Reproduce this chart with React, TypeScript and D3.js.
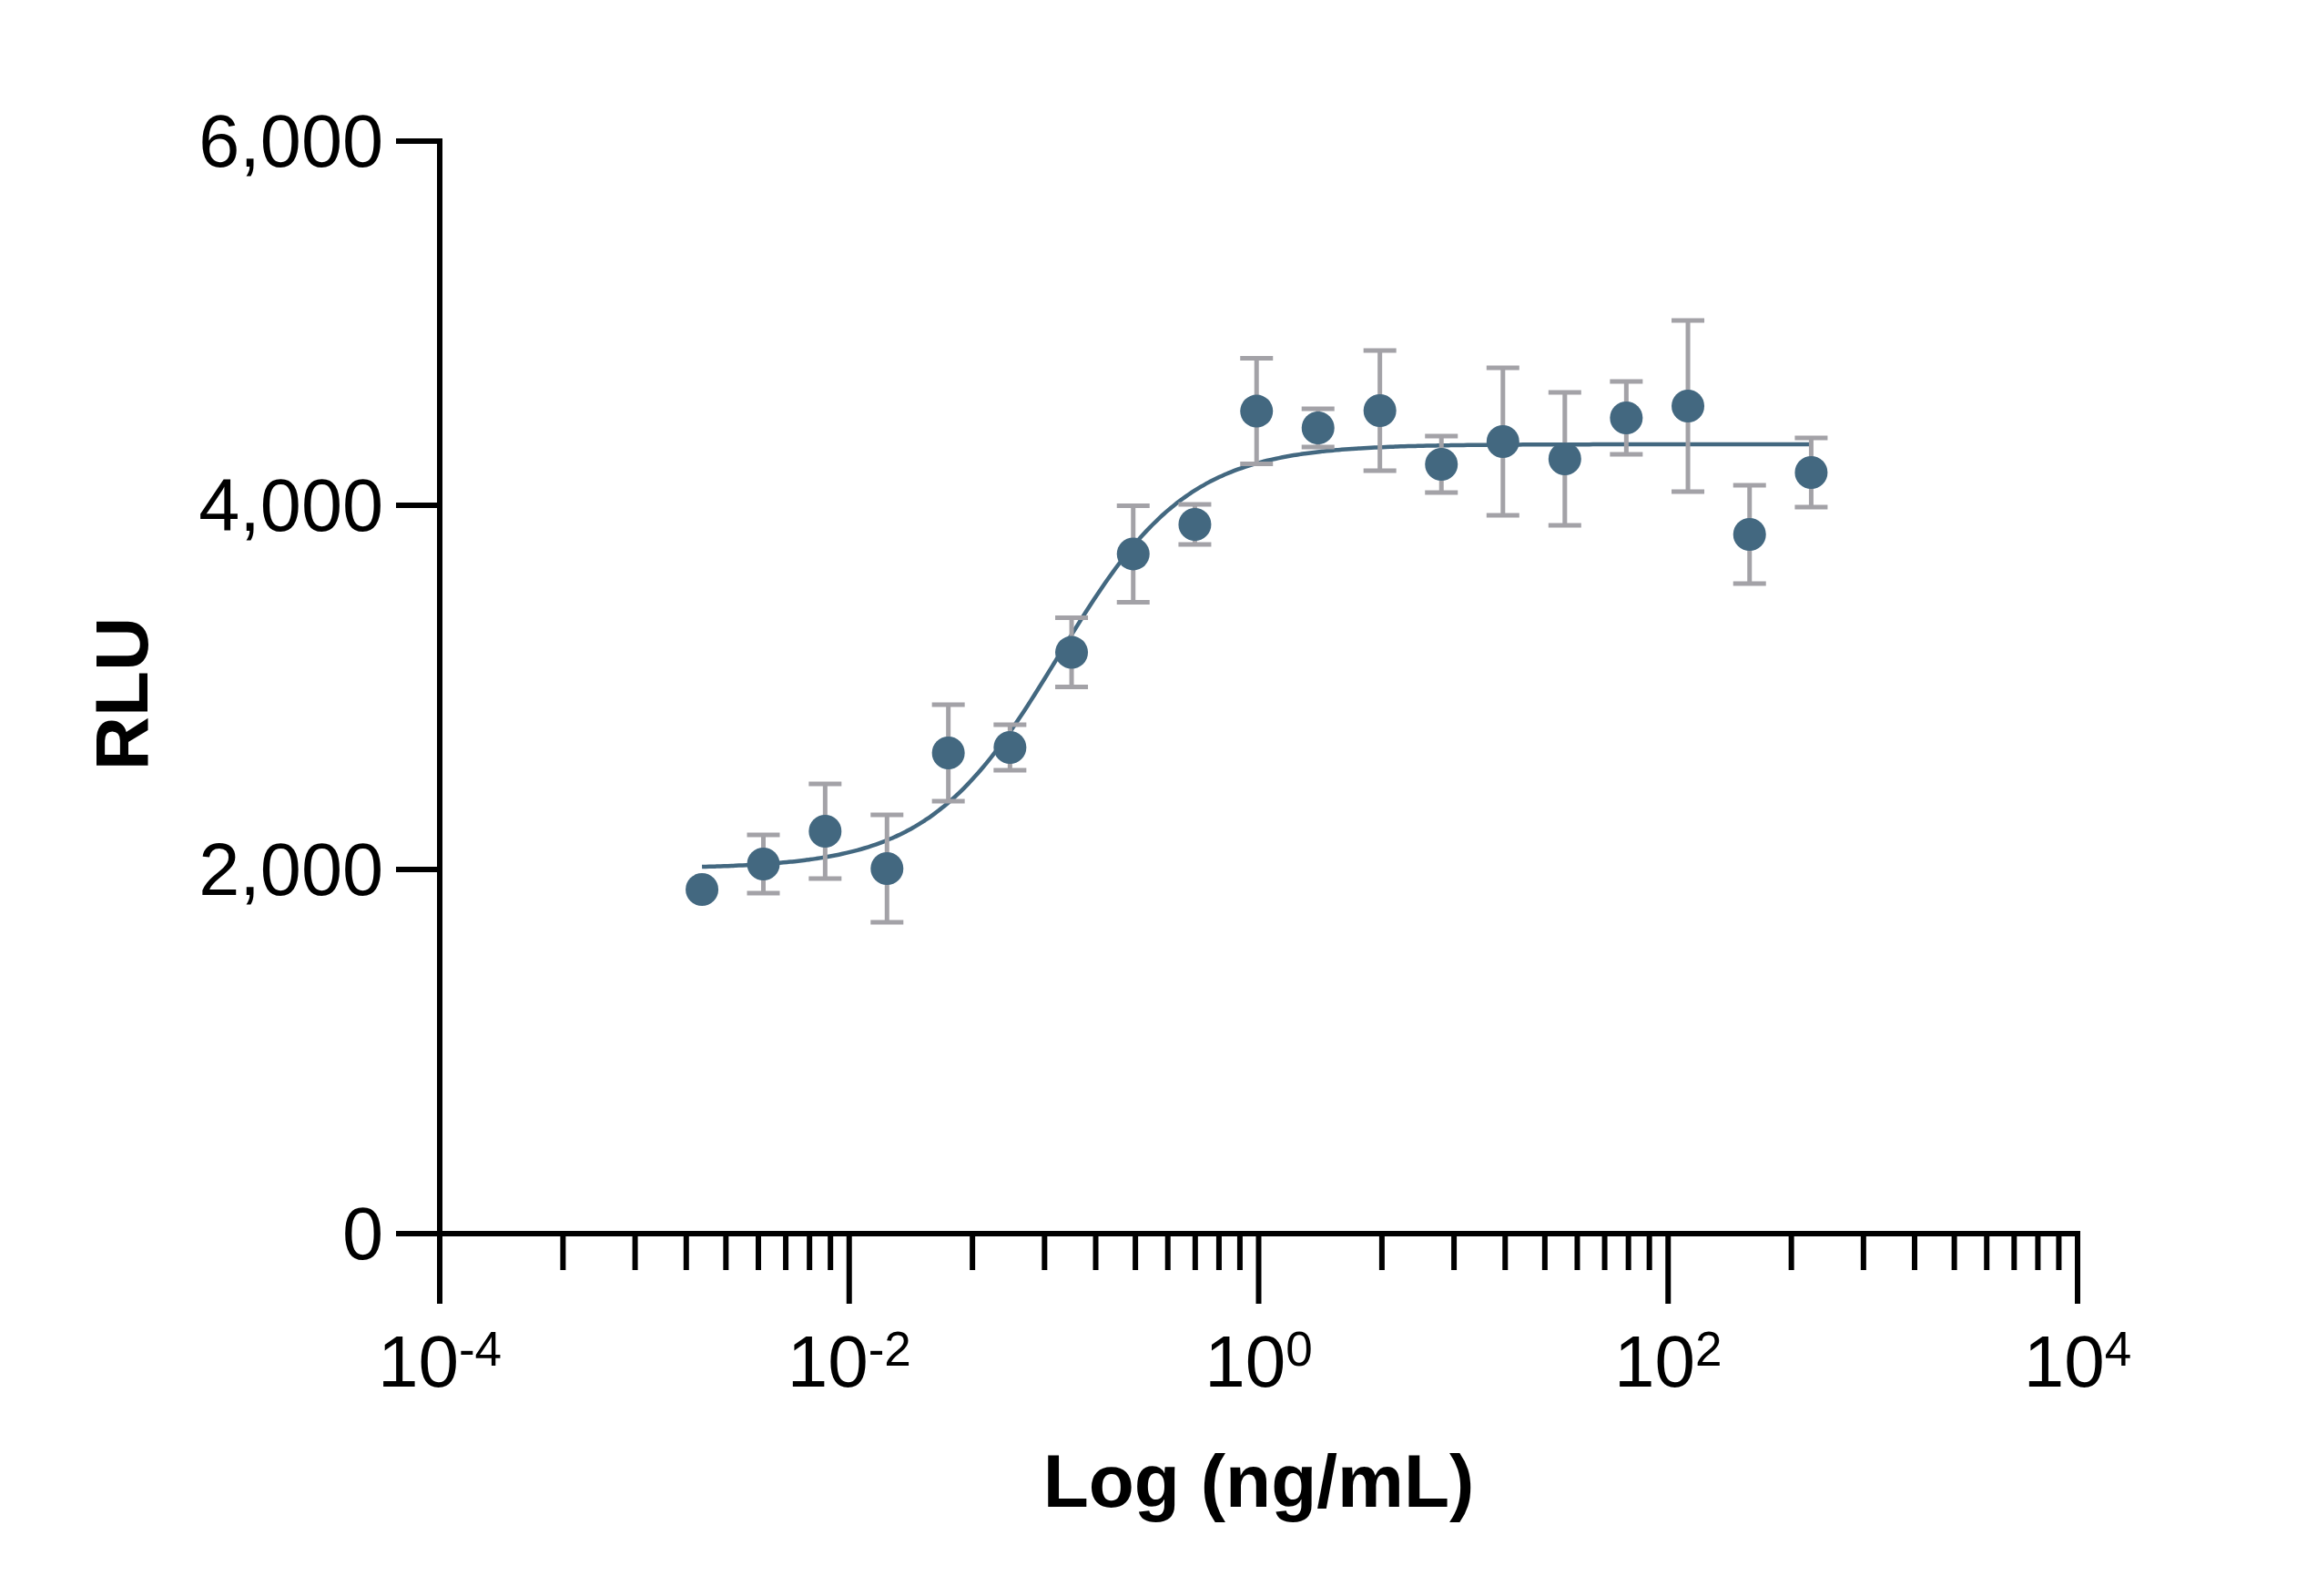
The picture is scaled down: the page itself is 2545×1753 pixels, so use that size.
import React from 'react';
import * as d3 from 'd3';

// concentration series (ng/mL), 2-fold dilution
const conc = [
  0.00191, 0.00381, 0.00763, 0.0153, 0.0305, 0.061, 0.122, 0.244, 0.488, 0.977,
  1.95, 3.91, 7.81, 15.6, 31.3, 62.5, 125, 250, 500,
];
const rluMean = [
  1890, 2030, 2210, 2005, 2640, 2670, 3192, 3733, 3895, 4517, 4425, 4520, 4225,
  4350, 4255, 4480, 4545, 3840, 4180,
];
const rluSd = [
  0, 160, 260, 295, 265, 125, 190, 265, 110, 290, 105, 330, 155, 405, 365, 200,
  470, 270, 190,
];

// 4PL fit
const fitBottom = 2005;
const fitTop = 4335;
const fitEC50 = 0.105;
const fitHill = 1.37;

const yTicks = [0, 2000, 4000, 6000];
const xMajor = [1e-4, 1e-2, 1e0, 1e2, 1e4];
const xExp = ['-4', '-2', '0', '2', '4'];

const W = 2545;
const H = 1753;
const left = 483;
const right = 2282;
const top = 155;
const bottom = 1355;

const dotColor = '#436880';
const errColor = '#a3a2a7';
const font = '"Liberation Sans", Arial, Helvetica, sans-serif';

const App = () => {
  const x = d3.scaleLog().domain([1e-4, 1e4]).range([left, right]);
  const y = d3.scaleLinear().domain([0, 6000]).range([bottom, top]);

  // minor ticks: k^2 steps within each 2-decade interval
  const minor: number[] = [];
  xMajor.slice(0, -1).forEach((m) => {
    d3.range(2, 10).forEach((k) => minor.push(m * k * k));
  });

  const fit = (c: number) =>
    fitBottom + (fitTop - fitBottom) / (1 + Math.pow(fitEC50 / c, fitHill));

  const lx0 = Math.log10(conc[0]);
  const lx1 = Math.log10(conc[conc.length - 1]);
  const curvePts = d3.range(0, 301).map((i) => {
    const c = Math.pow(10, lx0 + ((lx1 - lx0) * i) / 300);
    return [c, fit(c)] as [number, number];
  });
  const line = d3
    .line<[number, number]>()
    .x((d) => x(d[0]))
    .y((d) => y(d[1]))
    .curve(d3.curveMonotoneX);

  const fmt = d3.format(',');
  const capW = 18;

  return (
    <svg
      width={W}
      height={H}
      style={{ position: 'absolute', left: 0, top: 0, background: '#fff' }}
      fontFamily={font}
    >
      <rect width={W} height={H} fill="#fff" />

      {/* axes */}
      <g stroke="#000" strokeWidth={6}>
        <line x1={left} y1={top} x2={left} y2={bottom} strokeLinecap="square" />
        <line x1={left} y1={bottom} x2={right} y2={bottom} strokeLinecap="square" />
        {yTicks.map((t) => (
          <line key={'yt' + t} x1={left - 48} x2={left} y1={y(t)} y2={y(t)} />
        ))}
        {xMajor.map((t) => (
          <line key={'xt' + t} x1={x(t)} x2={x(t)} y1={bottom} y2={bottom + 77} />
        ))}
        {minor.map((t, i) => (
          <line key={'xm' + i} x1={x(t)} x2={x(t)} y1={bottom} y2={bottom + 40} />
        ))}
      </g>

      {/* y tick labels */}
      {yTicks.map((t) => (
        <text key={'yl' + t} x={421} y={y(t) + 28} textAnchor="end" fontSize={81} fill="#000">
          {fmt(t)}
        </text>
      ))}

      {/* x tick labels */}
      {xMajor.map((t, i) => (
        <text key={'xl' + t} x={x(t)} y={1523} textAnchor="middle" fontSize={80} fill="#000">
          <tspan>10</tspan>
          <tspan fontSize={53} dy={-23}>
            {xExp[i]}
          </tspan>
        </text>
      ))}

      {/* axis titles */}
      <text
        transform="translate(162,762) rotate(-90)"
        textAnchor="middle"
        fontSize={82}
        fontWeight="bold"
        fill="#000"
      >
        RLU
      </text>
      <text x={(left + right) / 2} y={1655} textAnchor="middle" fontSize={82} fontWeight="bold" fill="#000">
        Log (ng/mL)
      </text>

      {/* fitted curve */}
      <path d={line(curvePts) || ''} fill="none" stroke={dotColor} strokeWidth={4.5} />

      {/* error bars */}
      <g stroke={errColor} strokeWidth={5}>
        {conc.map((c, i) =>
          rluSd[i] > 0 ? (
            <g key={'e' + i}>
              <line x1={x(c)} x2={x(c)} y1={y(rluMean[i] + rluSd[i])} y2={y(rluMean[i] - rluSd[i])} />
              <line x1={x(c) - capW} x2={x(c) + capW} y1={y(rluMean[i] + rluSd[i])} y2={y(rluMean[i] + rluSd[i])} />
              <line x1={x(c) - capW} x2={x(c) + capW} y1={y(rluMean[i] - rluSd[i])} y2={y(rluMean[i] - rluSd[i])} />
            </g>
          ) : null
        )}
      </g>

      {/* points */}
      {conc.map((c, i) => (
        <circle key={'p' + i} cx={x(c)} cy={y(rluMean[i])} r={18} fill={dotColor} />
      ))}
    </svg>
  );
};

export default App;
